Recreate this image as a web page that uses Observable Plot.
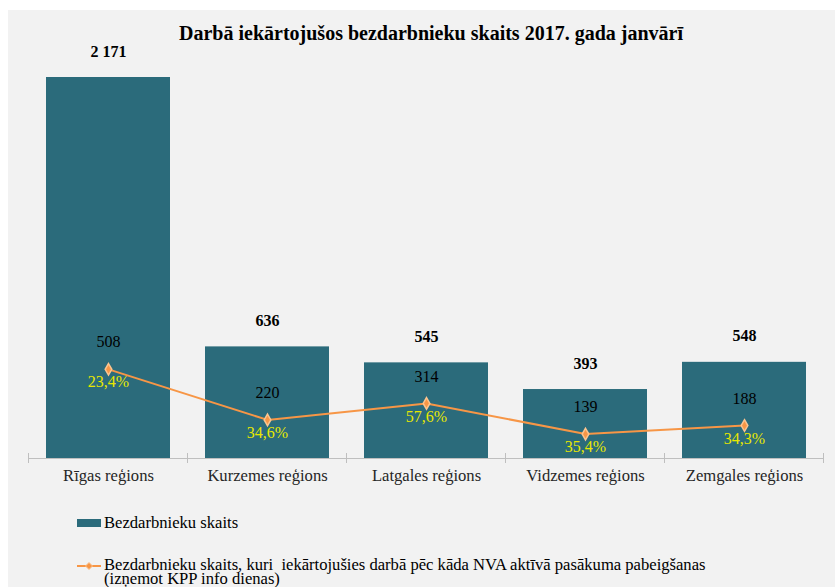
<!DOCTYPE html>
<html><head><meta charset="utf-8">
<script src="https://cdn.jsdelivr.net/npm/d3@7"></script>
<script src="https://cdn.jsdelivr.net/npm/@observablehq/plot@0.6"></script>
<style>
body{margin:0;background:#fff;font-family:"Liberation Serif","Times New Roman",serif;}
#bg{position:absolute;left:8px;top:10px;width:827px;height:577px;background:#f2f2f2}
#title{position:absolute;top:21px;left:27px;width:808px;text-align:center;font-weight:bold;font-size:20px;line-height:24px;color:#000}
#chart{position:absolute;left:0;top:48px}
.leg{position:absolute;left:104px;font-size:16.6px;color:#000;white-space:pre}
.sym{position:absolute;left:77px}
</style></head><body>
<div id="bg"></div>
<div id="title">Darbā iekārtojušos bezdarbnieku skaits 2017. gada janvārī</div>
<div id="chart"></div>
<svg class="sym" style="top:519px" width="24" height="8"><rect width="24" height="8" fill="#2b6b7b"/></svg>
<div class="leg" style="top:514px;line-height:17px">Bezdarbnieku skaits</div>
<svg class="sym" style="top:560px" width="24" height="12"><line x1="0" x2="24" y1="6" y2="6" stroke="#f79646" stroke-width="2"/><path d="M12,2.5L15.5,6L12,9.5L8.5,6Z" fill="#f79646" stroke="#fbc48f"/></svg>
<div class="leg" style="top:558px;line-height:13.5px">Bezdarbnieku skaits, kuri  iekārtojušies darbā pēc kāda NVA aktīvā pasākuma pabeigšanas
(izņemot KPP info dienas)</div>
<script>
const regions = ["Rīgas reģions","Kurzemes reģions","Latgales reģions","Vidzemes reģions","Zemgales reģions"];
const totalEmployed = [2171, 636, 545, 393, 548];
const afterMeasures = [508, 220, 314, 139, 188];
const sharePct = [23.4, 34.6, 57.6, 35.4, 34.3];

const data = regions.map((r, i) => ({region: r, total: totalEmployed[i], after: afterMeasures[i], share: sharePct[i]}));
const loc = d3.formatLocale({decimal: ",", thousands: " ", grouping: [3], currency: ["", ""]});
const fmtInt = loc.format(",d");
const fmtPct = v => loc.format(".1f")(v) + "%";

const boundaryTicks = (index, scales) => {
  const x = scales.x, y = scales.y;
  const pos = regions.map(r => x(r));
  const step = pos[1] - pos[0];
  const bw = x.bandwidth ? x.bandwidth() : step * 0.78;
  const gap = step - bw;
  const b = pos.map(p => p - gap / 2);
  b.push(pos[pos.length - 1] + bw + gap / 2);
  const y0 = y(0);
  const g = d3.create("svg:g").attr("stroke", "#bfbfbf");
  b.forEach(v => g.append("line").attr("x1", v).attr("x2", v).attr("y1", y0 - 5).attr("y2", y0 + 5));
  return g.node();
};

const chart = Plot.plot({
  width: 835, height: 450,
  marginLeft: 28, marginRight: 11, marginTop: 29, marginBottom: 40,
  style: {background: "transparent", fontFamily: "'Liberation Serif', 'Times New Roman', serif", fontSize: "16px", color: "#000", overflow: "visible"},
  x: {domain: regions, paddingInner: 0.22, paddingOuter: 0.11, label: null, axis: null},
  y: {domain: [0, 2171], axis: null},
  marks: [
    Plot.barY(data, {x: "region", y: "total", fill: "#2b6b7b"}),
    Plot.ruleY([0], {stroke: "#bfbfbf"}),
    boundaryTicks,
    Plot.axisX({tickSize: 0, tickPadding: 11, fontSize: 16.6, fill: "#262626", label: null}),
    Plot.line(data, {x: "region", y: "after", stroke: "#f79646", strokeWidth: 2}),
    Plot.dot(data, {x: "region", y: "after", symbol: "diamond", r: 3.5, fill: "#f79646", stroke: "#fbc48f"}),
    Plot.text(data, {x: "region", y: "total", text: d => fmtInt(d.total), dy: -26, fontWeight: "bold", fontSize: 16, fill: "#000"}),
    Plot.text(data, {x: "region", y: "after", text: d => fmtInt(d.after), dy: -27, fontSize: 16, fill: "#000"}),
    Plot.text(data, {x: "region", y: "after", text: d => fmtPct(d.share), dy: 13, fontSize: 16, fill: "#e8e800"})
  ]
});
document.getElementById("chart").appendChild(chart);
</script>
</body></html>
